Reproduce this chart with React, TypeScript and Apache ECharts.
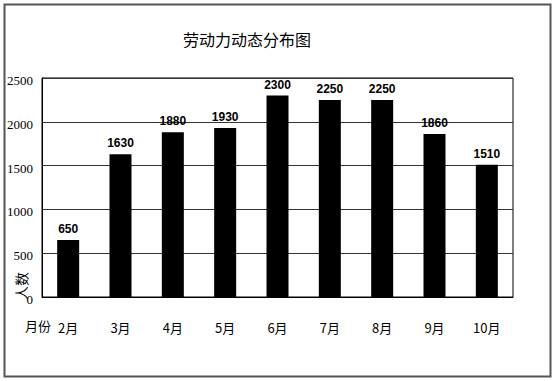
import React, { useEffect, useRef } from "react";
import * as echarts from "echarts";

const months = ["2月", "3月", "4月", "5月", "6月", "7月", "8月", "9月", "10月"];
const workers = [650, 1630, 1880, 1930, 2300, 2250, 2250, 1860, 1510];
const yTicks = { min: 0, max: 2500, interval: 500 };
const titleText = "劳动力动态分布图";
const yName = "人数";
const xName = "月份";

export default function App() {
  const ref = useRef<HTMLDivElement>(null);
  useEffect(() => {
    if (!ref.current) return;
    const chart = echarts.init(ref.current, null, { renderer: "svg" });
    chart.setOption({
      animation: false,
      backgroundColor: "#fff",
      title: {
        text: titleText,
        left: 178,
        top: 26,
        textStyle: {
          fontFamily: "Noto Sans CJK SC",
          fontWeight: "normal",
          fontSize: 16,
          color: "#000",
        },
      },
      grid: {
        left: 42,
        top: 78,
        right: 40,
        bottom: 84,
        show: true,
        borderColor: "#000",
        borderWidth: 1,
        backgroundColor: "#fff",
      },
      xAxis: {
        type: "category",
        data: months,
        axisLine: { show: true, lineStyle: { color: "#000", width: 1 } },
        axisTick: { show: false },
        axisLabel: {
          margin: 24,
          fontSize: 13,
          color: "#000",
          fontFamily: "Noto Sans CJK SC",
        },
      },
      yAxis: {
        type: "value",
        min: yTicks.min,
        max: yTicks.max,
        interval: yTicks.interval,
        axisLine: { show: true, lineStyle: { color: "#000" } },
        axisTick: { show: false },
        axisLabel: {
          margin: 9,
          fontSize: 13,
          color: "#000",
          fontFamily: "Liberation Serif",
          verticalAlign: "top",
          padding: [-4, 0, 0, 0],
          formatter: (v: number) => String(v),
        },
        splitLine: { show: true, lineStyle: { color: "#333", width: 1 } },
      },
      series: [
        {
          type: "bar",
          data: workers,
          barWidth: 22,
          itemStyle: { color: "#000" },
          label: {
            show: true,
            position: "top",
            distance: 5,
            fontSize: 12,
            fontWeight: "bold",
            fontFamily: "Liberation Sans",
            color: "#000",
          },
        },
      ],
      graphic: [
        {
          type: "rect",
          left: 2,
          top: 2,
          shape: { x: 0, y: 0, width: 546, height: 372 },
          style: { fill: "none", stroke: "#555", lineWidth: 2 },
          silent: true,
          z: -1,
        },
        {
          type: "text",
          x: 14,
          y: 300,
          rotation: Math.PI / 2,
          style: {
            text: yName,
            fontSize: 14,
            fontFamily: "Noto Sans CJK SC",
            fill: "#000",
            textVerticalAlign: "top",
          },
        },
        {
          type: "text",
          x: 25,
          y: 319,
          style: {
            text: xName,
            fontSize: 13,
            fontFamily: "Noto Sans CJK SC",
            fill: "#000",
          },
        },
      ],
    });
    return () => chart.dispose();
  }, []);
  return (
    <div
      ref={ref}
      style={{ position: "fixed", left: 0, top: 0, width: 553, height: 381 }}
    />
  );
}
